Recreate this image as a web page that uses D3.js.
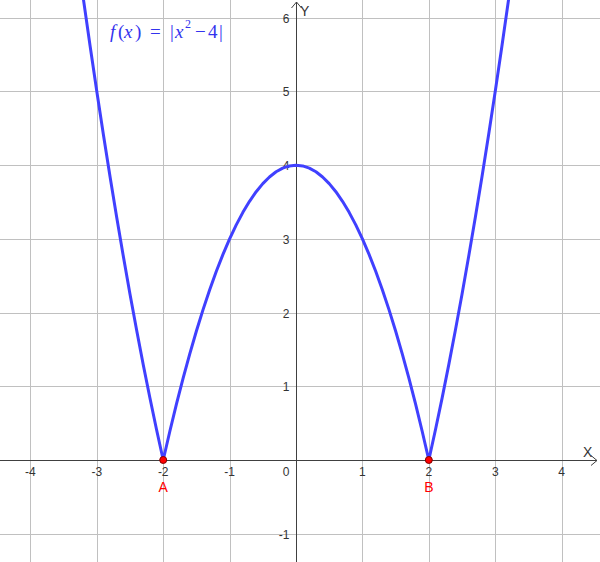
<!DOCTYPE html>
<html><head><meta charset="utf-8">
<script src="https://cdn.jsdelivr.net/npm/d3@7"></script>
<style>body{margin:0;background:#fff}svg{display:block}</style>
</head><body>
<script>
const xTicks = [-4,-3,-2,-1,1,2,3,4];
const yTicks = [-1,1,2,3,4,5,6];
const curveX = [-3.4,-3.3,-3.2,-3.1,-3.0,-2.9,-2.8,-2.7,-2.6,-2.5,-2.4,-2.3,-2.2,-2.1,-2.0,-1.9,-1.8,-1.7,-1.6,-1.5,-1.4,-1.3,-1.2,-1.1,-1.0,-0.9,-0.8,-0.7,-0.6,-0.5,-0.4,-0.3,-0.2,-0.1,0,0.1,0.2,0.3,0.4,0.5,0.6,0.7,0.8,0.9,1.0,1.1,1.2,1.3,1.4,1.5,1.6,1.7,1.8,1.9,2.0,2.1,2.2,2.3,2.4,2.5,2.6,2.7,2.8,2.9,3.0,3.1,3.2,3.3,3.4];
const curveY = [7.56,6.89,6.24,5.61,5.00,4.41,3.84,3.29,2.76,2.25,1.76,1.29,0.84,0.41,0,0.39,0.76,1.11,1.44,1.75,2.04,2.31,2.56,2.79,3.00,3.19,3.36,3.51,3.64,3.75,3.84,3.91,3.96,3.99,4,3.99,3.96,3.91,3.84,3.75,3.64,3.51,3.36,3.19,3.00,2.79,2.56,2.31,2.04,1.75,1.44,1.11,0.76,0.39,0,0.41,0.84,1.29,1.76,2.25,2.76,3.29,3.84,4.41,5.00,5.61,6.24,6.89,7.56];
const pointNames = ["A","B"];
const pointX = [-2,2];
const pointY = [0,0];

const W = 600, H = 562;
const x = d3.scaleLinear().domain([-4.458, 4.578]).range([0, W]);
const y = d3.scaleLinear().domain([-1.384, 6.241]).range([H, 0]);

const svg = d3.select("body").append("svg").attr("width", W).attr("height", H);
svg.append("defs").append("clipPath").attr("id","clip")
  .append("rect").attr("x",0).attr("y",0).attr("width",W).attr("height",H);

// grid
const grid = svg.append("g").attr("stroke","#c0c0c0").attr("stroke-width",1).attr("shape-rendering","crispEdges");
grid.selectAll(".gx").data(xTicks).join("line")
  .attr("x1", d=>Math.round(x(d))+0.5).attr("x2", d=>Math.round(x(d))+0.5)
  .attr("y1",0).attr("y2",H);
grid.selectAll(".gy").data(yTicks).join("line")
  .attr("y1", d=>Math.round(y(d))+0.5).attr("y2", d=>Math.round(y(d))+0.5)
  .attr("x1",0).attr("x2",W);

// axes
const ax = svg.append("g").attr("stroke","#404040").attr("stroke-width",1).attr("fill","none");
const x0 = Math.round(x(0))+0.5, y0 = Math.round(y(0))+0.5;
ax.append("line").attr("x1",0).attr("x2",W-3).attr("y1",y0).attr("y2",y0);
ax.append("path").attr("d",`M${W-9},${y0-5}L${W-3},${y0}L${W-9},${y0+5}`);
ax.append("line").attr("x1",x0).attr("x2",x0).attr("y1",H).attr("y2",2);
ax.append("path").attr("d",`M${x0-5},${8}L${x0},${2}L${x0+5},${8}`);

// tick labels
const lbl = svg.append("g").attr("font-family","Liberation Sans, Arial, sans-serif").attr("font-size",12).attr("fill","#333");
lbl.selectAll(".tx").data(xTicks).join("text")
  .attr("x", d=>x(d)).attr("y", y0+15).attr("text-anchor","middle")
  .text(d=>d<0? "-"+Math.abs(d) : d);
lbl.selectAll(".ty").data(yTicks).join("text")
  .attr("x", x0-7).attr("y", d=>y(d)+5).attr("text-anchor","end")
  .text(d=>d<0? "-"+Math.abs(d) : d);
lbl.append("text").attr("x", x0-7).attr("y", y0+15).attr("text-anchor","end").text("0");
lbl.append("text").attr("x", 583).attr("y", 457).attr("font-size",14).text("X");
lbl.append("text").attr("x", 300).attr("y", 16).attr("font-size",14).text("Y");

// curve
const line = d3.line().x((d,i)=>x(curveX[i])).y((d,i)=>y(curveY[i]));
svg.append("path").attr("clip-path","url(#clip)")
  .attr("d", line(curveX))
  .attr("fill","none").attr("stroke","#4040ff").attr("stroke-width",3).attr("stroke-linejoin","round");

// points
svg.selectAll(".pt").data(pointX).join("circle")
  .attr("cx",(d)=>x(d)).attr("cy",(d,i)=>y(pointY[i])).attr("r",3.5)
  .attr("fill","#ff0000").attr("stroke","#800000").attr("stroke-width",1);
svg.selectAll(".pl").data(pointNames).join("text")
  .attr("x",(d,i)=>x(pointX[i])).attr("y",(d,i)=>y(pointY[i])+32)
  .attr("text-anchor","middle").attr("font-family","Liberation Sans, Arial, sans-serif")
  .attr("font-size",14).attr("fill","#ff0000").text(d=>d);

// formula
const f = svg.append("text").attr("y",38).attr("font-family","Liberation Serif, DejaVu Serif, serif")
  .attr("font-size",19).attr("fill","#3333ee");
const glyph = (gx, t, it, extra) => {
  const s = f.append("tspan").attr("x", gx).attr("y", 38).text(t);
  if (it) s.attr("font-style","italic");
  return s;
};
glyph(110,"f",true);
glyph(118,"(",false);
glyph(124,"x",true);
glyph(135,")",false);
glyph(150,"=",false);
glyph(170,"|",false);
glyph(175,"x",true);
glyph(185,"2",false).attr("font-size",12).attr("y",28);
glyph(195,"−",false);
glyph(208,"4",false);
glyph(219,"|",false);
</script>
</body></html>
